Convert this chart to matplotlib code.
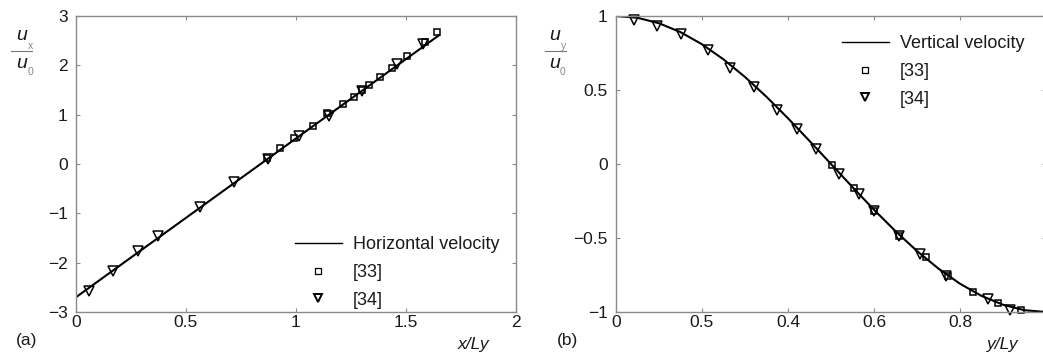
import matplotlib
matplotlib.use("Agg")
import matplotlib.pyplot as plt
from matplotlib.lines import Line2D

plt.rcParams['font.family'] = ['Liberation Sans', 'DejaVu Sans']

W, H = 1043, 352

# ---------------- data (a) ----------------
a_line_x = [0.0, 1.65]
a_line_y = [-2.70, 2.61]
a_sq_x = [0.87, 0.927, 0.992, 1.076, 1.14, 1.215, 1.265, 1.30, 1.333, 1.38, 1.435, 1.506, 1.586, 1.64]
a_sq_y = [0.12, 0.318, 0.52, 0.77, 1.03, 1.21, 1.36, 1.50, 1.595, 1.76, 1.94, 2.19, 2.48, 2.67]
a_tri_x = [0.06, 0.167, 0.28, 0.371, 0.564, 0.72, 0.871, 1.015, 1.151, 1.30, 1.457, 1.576]
a_tri_y = [-2.58, -2.16, -1.76, -1.45, -0.88, -0.36, 0.11, 0.57, 0.97, 1.48, 2.02, 2.43]
a_xticks = [0, 0.5, 1, 1.5, 2]
a_xticklabels = ["0", "0.5", "1", "1.5", "2"]
a_yticks = [-3, -2, -1, 0, 1, 2, 3]

# ---------------- data (b) ----------------
b_line_x = [0.0, 0.05, 0.10, 0.15, 0.20, 0.25, 0.30, 0.35, 0.40, 0.45, 0.50,
            0.55, 0.60, 0.65, 0.70, 0.75, 0.80, 0.85, 0.90, 0.95, 1.00]
b_line_y = [1.0, 0.988, 0.951, 0.891, 0.809, 0.707, 0.588, 0.454, 0.309, 0.156, 0.0,
            -0.156, -0.309, -0.454, -0.588, -0.707, -0.809, -0.891, -0.951, -0.988, -1.0]
b_sq_x = [0.502, 0.553, 0.60, 0.659, 0.72, 0.773, 0.83, 0.888, 0.942]
b_sq_y = [-0.007, -0.16, -0.318, -0.486, -0.63, -0.76, -0.863, -0.94, -0.986]
b_tri_x = [0.043, 0.095, 0.152, 0.213, 0.266, 0.32, 0.375, 0.421, 0.466, 0.518,
           0.565, 0.60, 0.658, 0.707, 0.767, 0.864, 0.916]
b_tri_y = [0.973, 0.935, 0.876, 0.77, 0.647, 0.518, 0.365, 0.234, 0.098, -0.07,
           -0.205, -0.318, -0.486, -0.61, -0.757, -0.914, -0.986]
b_xticks = [0, 0.2, 0.4, 0.6, 0.8]
b_xticklabels = ["0", "0.5", "0.4", "0.6", "0.8"]
b_yticks = [-1, -0.5, 0, 0.5, 1]
b_yticklabels = ["\u22121", "\u22120.5", "0", "0.5", "1"]

SPINE = '#8a8a8a'
TXT = '#1a1a1a'

fig = plt.figure(figsize=(W / 100, H / 100), dpi=100)

def px_rect(x0, x1, ytop, ybot):
    return [x0 / W, 1 - ybot / H, (x1 - x0) / W, (ybot - ytop) / H]

axA = fig.add_axes(px_rect(76, 516, 16, 312))
axB = fig.add_axes(px_rect(616, 1046, 16, 312))

def style(ax):
    for s in ax.spines.values():
        s.set_color(SPINE)
        s.set_linewidth(1.0)
    ax.tick_params(direction='in', length=3, width=0.8, color=SPINE,
                   top=True, right=True, labelsize=12.5, labelcolor=TXT)
    ax.tick_params(axis='y', pad=6)
    ax.tick_params(axis='x', pad=2)

mk_kw = dict(ls='none', mfc='none', mec='k', mew=1.1, clip_on=False)

# panel (a)
axA.plot(a_line_x, a_line_y, color='k', lw=1.5)
axA.plot(a_sq_x, a_sq_y, marker='s', ms=5, **mk_kw)
axA.plot(a_tri_x, a_tri_y, marker='v', ms=7, **mk_kw)
axA.set_xlim(0, 2)
axA.set_ylim(-3, 3)
axA.set_xticks(a_xticks)
axA.set_xticklabels(a_xticklabels)
axA.set_yticks(a_yticks)
style(axA)

# panel (b)
axB.plot(b_line_x, b_line_y, color='k', lw=1.5)
axB.plot(b_sq_x, b_sq_y, marker='s', ms=5, **mk_kw)
axB.plot(b_tri_x, b_tri_y, marker='v', ms=7, **mk_kw)
axB.set_xlim(0, 1)
axB.set_ylim(-1, 1)
axB.set_xticks(b_xticks)
axB.set_xticklabels(b_xticklabels)
axB.set_yticks(b_yticks)
axB.set_yticklabels(b_yticklabels)
style(axB)

def legend(ax, label, ax_x, ax_y):
    handles = [Line2D([], [], color='k', lw=1.0),
               Line2D([], [], ls='none', marker='s', ms=4, mfc='none', mec='k', mew=0.9),
               Line2D([], [], ls='none', marker='v', ms=5.5, mfc='none', mec='k', mew=1.4)]
    ax.legend(handles, [label, "[33]", "[34]"], loc='upper left',
              bbox_to_anchor=(ax_x, ax_y), frameon=False, fontsize=13,
              handlelength=2.6, handletextpad=0.6, labelspacing=0.6,
              borderpad=0, borderaxespad=0, labelcolor=TXT)

legend(axA, "Horizontal velocity", (295 - 76) / 440, (312 - 236) / 296)
legend(axB, "Vertical velocity", (842 - 616) / 430, (312 - 35) / 296)

def ftext(px, py, s, **kw):
    fig.text(px / W, 1 - py / H, s, **kw)

# panel labels and axis labels
ftext(27, 341, "(a)", fontsize=12.5, color=TXT, ha='center', va='center')
ftext(567, 341, "(b)", fontsize=12.5, color=TXT, ha='center', va='center')
ftext(474, 345, "x/Ly", fontsize=12.5, style='italic', color=TXT, ha='center', va='center')
ftext(1003, 344, "y/Ly", fontsize=12.5, style='italic', color=TXT, ha='center', va='center')

# fraction-style y labels
def frac(x_u, x_bar0, x_bar1, sub):
    ftext(x_u, 36, "u", fontsize=14, style='italic', color=TXT, ha='center', va='center')
    ftext(x_u + 9, 46, sub, fontsize=7.5, color='#888888', ha='center', va='center')
    fig.add_artist(Line2D([x_bar0 / W, x_bar1 / W], [1 - 51 / H, 1 - 51 / H],
                          color='#777777', lw=0.8))
    ftext(x_u, 64, "u", fontsize=14, style='italic', color=TXT, ha='center', va='center')
    ftext(x_u + 8, 72, "0", fontsize=7.5, color='#888888', ha='center', va='center')

frac(22, 11, 32, "x")
frac(555, 545, 566, "y")

fig.savefig("out.png", dpi=100)
